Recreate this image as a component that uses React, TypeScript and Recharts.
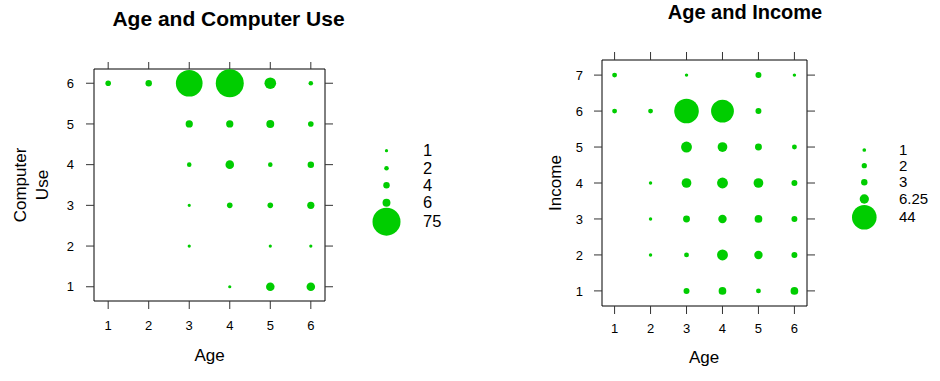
import React from 'react';
import { ScatterChart, Scatter, XAxis, YAxis, ZAxis } from 'recharts';

const ages = [1, 2, 3, 4, 5, 6];

// rows = levels from top to bottom, columns = ages 1..6, 0 = no point
const computerUseLevels = [6, 5, 4, 3, 2, 1];
const computerUseCounts = [
  [3, 4, 68, 75, 13, 2],
  [0, 0, 5, 5, 6, 3],
  [0, 0, 2, 7, 2, 4],
  [0, 0, 1, 3, 3, 5],
  [0, 0, 1, 0, 1, 1],
  [0, 0, 0, 1, 7, 7],
];
const computerUseLegend = [1, 2, 4, 6, 75];

const incomeLevels = [7, 6, 5, 4, 3, 2, 1];
const incomeCounts = [
  [2, 0, 1, 0, 3, 1],
  [2, 2, 51, 44, 3, 0],
  [0, 0, 10, 8, 4, 2],
  [0, 1, 8, 10, 8, 3],
  [0, 1, 4, 6, 5, 3],
  [0, 1, 2, 10, 6, 3],
  [0, 0, 3, 5, 2, 5],
];
const incomeLegend = [1, 2, 3, 6.25, 44];

const GREEN = '#00CD00';
const FONT = '"Liberation Sans", Arial, Helvetica, sans-serif';

type Pt = { age: number; level: number; n: number };

const toPoints = (levels: number[], counts: number[][]): Pt[] => {
  const out: Pt[] = [];
  levels.forEach((lv, i) => {
    counts[i].forEach((n, j) => {
      if (n > 0) out.push({ age: ages[j], level: lv, n });
    });
  });
  return out;
};

const radius = (v: number, vMax: number, rMax: number) => rMax * Math.sqrt(v / vMax);
const noLabel = () => '';

// plain tick text, so the size is surely what we ask for
const BottomTick = (props: any) => (
  <text x={props.x} y={props.y + 9.5} textAnchor="middle" fontSize={13} fontFamily={FONT} fill="#000">
    {props.payload.value}
  </text>
);
const LeftTick = (props: any) => (
  <text x={props.x} y={props.y + 4.7} textAnchor="end" fontSize={13} fontFamily={FONT} fill="#000">
    {props.payload.value}
  </text>
);

type PanelProps = {
  data: Pt[];
  yTicks: number[];
  yDomain: [number, number];
  zMax: number;
  rMax: number;
  margin: { top: number; right: number; bottom: number; left: number };
  leftMargin: number;
  bottomMargin: number;
  topTick: number;
  rightTick: number;
};

const Panel = (p: PanelProps) => {
  const box = { stroke: '#000', strokeWidth: 1 };
  const tl = { stroke: '#333', strokeWidth: 1 };
  return (
    <ScatterChart width={470} height={381} margin={p.margin}>
      <XAxis
        xAxisId="b"
        type="number"
        dataKey="age"
        orientation="bottom"
        domain={[0.65, 6.35]}
        ticks={ages}
        allowDataOverflow
        height={30}
        axisLine={box}
        tickLine={tl}
        tickSize={8}
        tickMargin={p.bottomMargin}
        tick={<BottomTick />}
      />
      <XAxis
        xAxisId="t"
        type="number"
        dataKey="age"
        orientation="top"
        domain={[0.65, 6.35]}
        ticks={ages}
        allowDataOverflow
        height={30}
        axisLine={box}
        tickLine={tl}
        tickSize={p.topTick}
        tickFormatter={noLabel}
      />
      <YAxis
        yAxisId="l"
        type="number"
        dataKey="level"
        orientation="left"
        domain={p.yDomain}
        ticks={p.yTicks}
        allowDataOverflow
        width={30}
        axisLine={box}
        tickLine={tl}
        tickSize={8}
        tickMargin={p.leftMargin}
        tick={<LeftTick />}
      />
      <YAxis
        yAxisId="r"
        type="number"
        dataKey="level"
        orientation="right"
        domain={p.yDomain}
        ticks={p.yTicks}
        allowDataOverflow
        width={30}
        axisLine={box}
        tickLine={tl}
        tickSize={p.rightTick}
        tickFormatter={noLabel}
      />
      <ZAxis dataKey="n" type="number" domain={[0, p.zMax]} range={[0, Math.PI * p.rMax * p.rMax]} />
      <Scatter xAxisId="b" yAxisId="l" data={p.data} fill={GREEN} isAnimationActive={false} />
    </ScatterChart>
  );
};

const Legend = ({ values, vMax, rMax, cx, tx, ys, fontSize }: {
  values: number[]; vMax: number; rMax: number; cx: number; tx: number; ys: number[]; fontSize: number;
}) => (
  <g>
    {values.map((v, i) => (
      <g key={i}>
        <circle cx={cx} cy={ys[i]} r={radius(v, vMax, rMax)} fill={GREEN} />
        <text x={tx} y={ys[i] + fontSize * 0.34} fontSize={fontSize} fontFamily={FONT} fill="#000">
          {v}
        </text>
      </g>
    ))}
  </g>
);

export default function App() {
  const cuData = toPoints(computerUseLevels, computerUseCounts);
  const incData = toPoints(incomeLevels, incomeCounts);
  return (
    <div style={{ position: 'absolute', left: 0, top: 0, width: 940, height: 381, background: '#fff' }}>
      <div style={{ position: 'absolute', left: 0, top: 0 }}>
        <Panel
          data={cuData}
          yTicks={computerUseLevels}
          yDomain={[0.65, 6.35]}
          zMax={75}
          rMax={14}
          margin={{ top: 39, right: 115, bottom: 50, left: 64 }}
          leftMargin={12}
          bottomMargin={11}
          topTick={7}
          rightTick={8}
        />
      </div>
      <div style={{ position: 'absolute', left: 470, top: 0 }}>
        <Panel
          data={incData}
          yTicks={incomeLevels}
          yDomain={[0.58, 7.42]}
          zMax={44}
          rMax={12.3}
          margin={{ top: 30, right: 103, bottom: 45, left: 102 }}
          leftMargin={11}
          bottomMargin={9}
          topTick={8}
          rightTick={8}
        />
      </div>
      <svg width={940} height={381} style={{ position: 'absolute', left: 0, top: 0, pointerEvents: 'none' }}>
        <text x={228.5} y={26} textAnchor="middle" fontSize={21} fontWeight="bold" fontFamily={FONT}>
          Age and Computer Use
        </text>
        <text x={209.5} y={361} textAnchor="middle" fontSize={17} fontFamily={FONT}>Age</text>
        <text x={25.5} y={185} textAnchor="middle" fontSize={17} fontFamily={FONT} transform="rotate(-90 25.5 185)">
          Computer
        </text>
        <text x={47.5} y={185} textAnchor="middle" fontSize={17} fontFamily={FONT} transform="rotate(-90 47.5 185)">
          Use
        </text>
        <Legend values={computerUseLegend} vMax={75} rMax={14} cx={386.5} tx={423} ys={[150.7, 168.3, 185.3, 202.7, 221.7]} fontSize={16.5} />

        <text x={745} y={18.5} textAnchor="middle" fontSize={20} fontWeight="bold" fontFamily={FONT}>
          Age and Income
        </text>
        <text x={704} y={363} textAnchor="middle" fontSize={17} fontFamily={FONT}>Age</text>
        <text x={561} y={183} textAnchor="middle" fontSize={17} fontFamily={FONT} transform="rotate(-90 561 183)">
          Income
        </text>
        <Legend values={incomeLegend} vMax={44} rMax={12.3} cx={864.3} tx={899} ys={[150, 165.7, 182.3, 199, 217.3]} fontSize={15} />
      </svg>
    </div>
  );
}
